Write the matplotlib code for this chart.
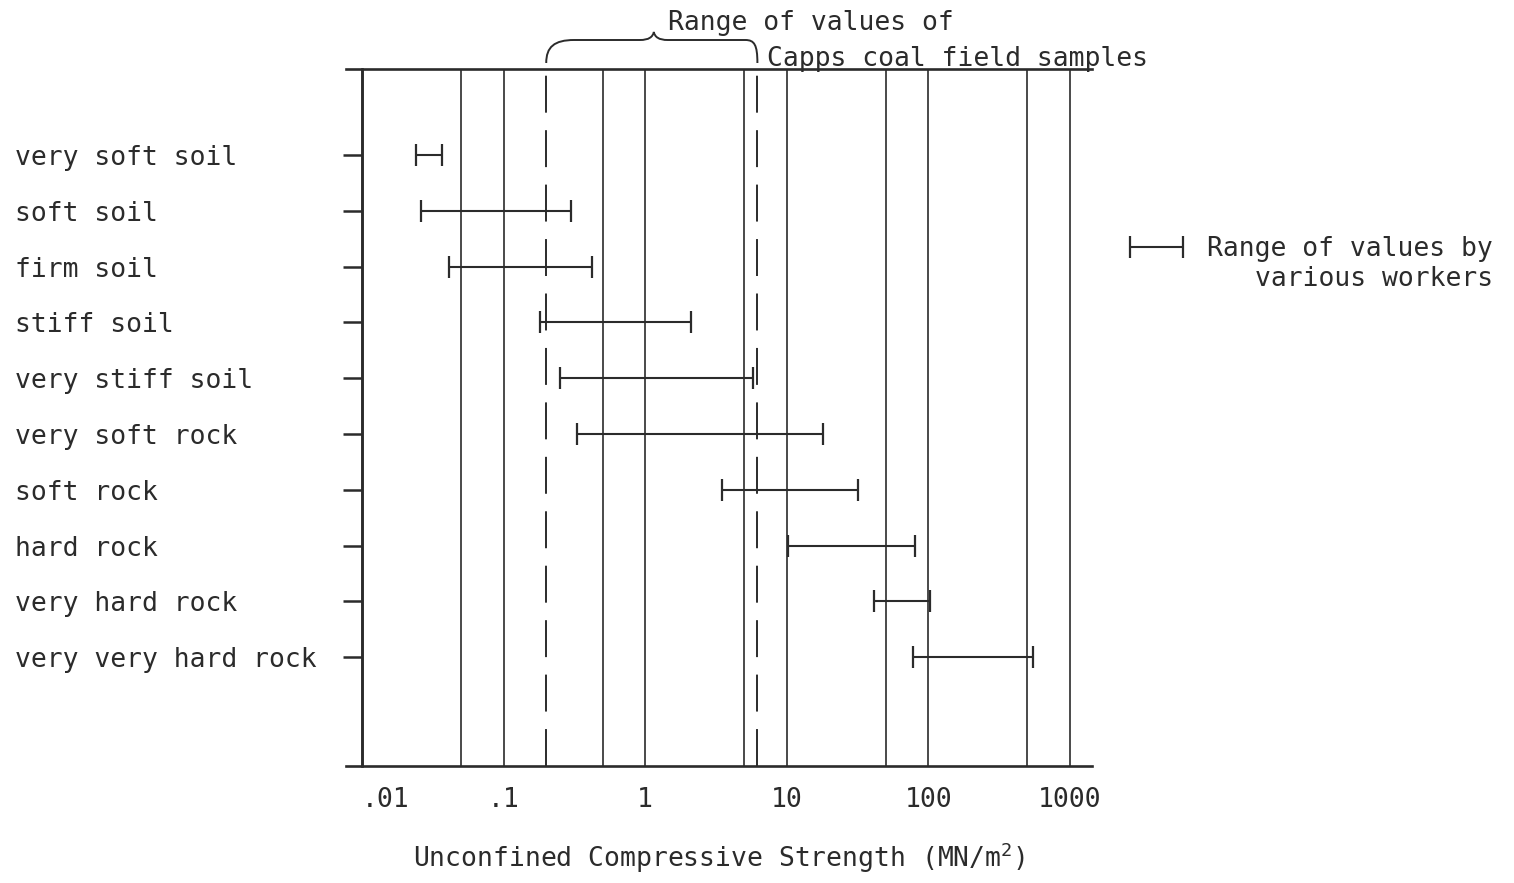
import numpy as np
import matplotlib
matplotlib.use('Agg')
import matplotlib.pyplot as plt
from matplotlib.path import Path
from matplotlib.patches import PathPatch
from matplotlib.ticker import NullLocator
from matplotlib.container import ErrorbarContainer
from matplotlib.legend_handler import HandlerErrorbar

# ---------------- data ----------------
categories = ["very soft soil", "soft soil", "firm soil", "stiff soil",
              "very stiff soil", "very soft rock", "soft rock", "hard rock",
              "very hard rock", "very very hard rock"]
range_low = [0.024, 0.026, 0.041, 0.18, 0.25, 0.33, 3.5, 10.2, 41, 78]
range_high = [0.037, 0.30, 0.42, 2.1, 5.8, 18, 32, 80, 102, 550]

ref_lines = [0.01, 0.05, 0.1, 0.5, 1, 5, 10, 50, 100, 500, 1000]
capps_range = [0.2, 6.2]
tick_values = [0.01, 0.1, 1, 10, 100, 1000]
tick_labels = [".01", ".1", "1", "10", "100", "1000"]

# ---------------- style ----------------
INK = '#2b2b2b'
FONT = 'DejaVu Sans Mono'
FS = 19
plt.rcParams['font.family'] = [FONT, 'DejaVu Sans']
plt.rcParams['mathtext.fontset'] = 'custom'
plt.rcParams['mathtext.rm'] = FONT
plt.rcParams['mathtext.it'] = FONT
plt.rcParams['text.color'] = INK

W, H = 1514, 883
fig = plt.figure(figsize=(W / 100, H / 100), dpi=100)
AX_L, AX_R, AX_T, AX_B = 346, 1092, 69, 766
ax = fig.add_axes([AX_L / W, 1 - AX_B / H, (AX_R - AX_L) / W, (AX_B - AX_T) / H])

ax.set_xscale('log')
xmin, xmax = 10 ** (-2 - 16 / 141.5), 10 ** (3 + 22 / 141.5)
ax.set_xlim(xmin, xmax)
ypos = np.arange(len(categories))
ax.set_ylim(10.95, -1.54)

# vertical reference lines
for v in ref_lines:
    ax.axvline(v, color=INK, lw=1.8 if v == 0.01 else 1.2, zorder=1)
for v in capps_range:
    ax.axvline(v, color=INK, lw=1.4, linestyle=(0, (19, 9)), zorder=1)

# ranges as horizontal error bars
lo = np.array(range_low)
hi = np.array(range_high)
center = np.sqrt(lo * hi)
ax.errorbar(center, ypos, xerr=[center - lo, hi - center], fmt='none',
            ecolor=INK, elinewidth=1.5, capsize=8, capthick=1.6,
            label="Range of values by", zorder=3)

# spines
for s in ['top', 'bottom']:
    ax.spines[s].set_linewidth(1.9)
    ax.spines[s].set_color(INK)
ax.spines['right'].set_visible(False)
ax.spines['left'].set_position(('data', 0.01))
ax.spines['left'].set_linewidth(1.9)
ax.spines['left'].set_color(INK)

# y ticks / labels
ax.set_yticks(ypos, labels=categories)
ax.yaxis.set_minor_locator(NullLocator())
ax.tick_params(axis='y', length=14, width=1.8, color=INK, labelsize=FS,
               labelcolor=INK, pad=236)
for lbl in ax.get_yticklabels():
    lbl.set_horizontalalignment('left')

# x ticks / labels
ax.set_xticks(tick_values, labels=tick_labels)
ax.xaxis.set_minor_locator(NullLocator())
ax.tick_params(axis='x', length=0, labelsize=FS, labelcolor=INK, pad=15)
ax.get_xticklabels()[0].set_horizontalalignment('left')
ax.set_xlabel("Unconfined Compressive Strength (MN/m$^{2}$)", fontsize=FS,
              color=INK, labelpad=20)

# legend
leg = ax.legend(loc='upper left', bbox_to_anchor=(1129 / W, 1 - 236 / H),
                bbox_transform=fig.transFigure, frameon=False, fontsize=FS,
                handlelength=2.1, handletextpad=0.85, borderpad=0,
                borderaxespad=0,
                handler_map={ErrorbarContainer: HandlerErrorbar(xerr_size=1.0)})
fig.text(1493 / W, 1 - 279 / H, "various workers", ha='right', va='center',
         fontsize=FS, color=INK)

# brace over the Capps coal field range
def xpix(v):
    f = (np.log10(v) - np.log10(xmin)) / (np.log10(xmax) - np.log10(xmin))
    return AX_L + f * (AX_R - AX_L)

xL, xR = xpix(capps_range[0]), xpix(capps_range[1])
xM = (xL + xR) / 2 + 2
y0, y1, y2 = 63, 40, 32
pts = [
    ((xL, y0), Path.MOVETO),
    ((xL, 47), Path.CURVE4), ((xL + 8, y1), Path.CURVE4), ((xL + 28, y1), Path.CURVE4),
    ((xM - 14, y1), Path.LINETO),
    ((xM - 5, y1), Path.CURVE4), ((xM - 1, 37), Path.CURVE4), ((xM, y2), Path.CURVE4),
    ((xM + 1, 37), Path.CURVE4), ((xM + 5, y1), Path.CURVE4), ((xM + 14, y1), Path.CURVE4),
    ((xR - 12, y1), Path.LINETO),
    ((xR - 3, y1), Path.CURVE4), ((xR, 45), Path.CURVE4), ((xR, y0), Path.CURVE4),
]
verts = [((px - AX_L) / (AX_R - AX_L), (AX_B - py) / (AX_B - AX_T)) for (px, py), _ in pts]
codes = [c for _, c in pts]
brace = PathPatch(Path(verts, codes), transform=ax.transAxes, fill=False,
                  edgecolor=INK, lw=1.4, clip_on=False)
ax.add_patch(brace)

fig.text(668 / W, 1 - 30 / H, "Range of values of", ha='left', va='baseline',
         fontsize=FS, color=INK)
fig.text(767 / W, 1 - 66 / H, "Capps coal field samples", ha='left',
         va='baseline', fontsize=FS, color=INK)

fig.savefig('out.png', dpi=100, facecolor='white')
